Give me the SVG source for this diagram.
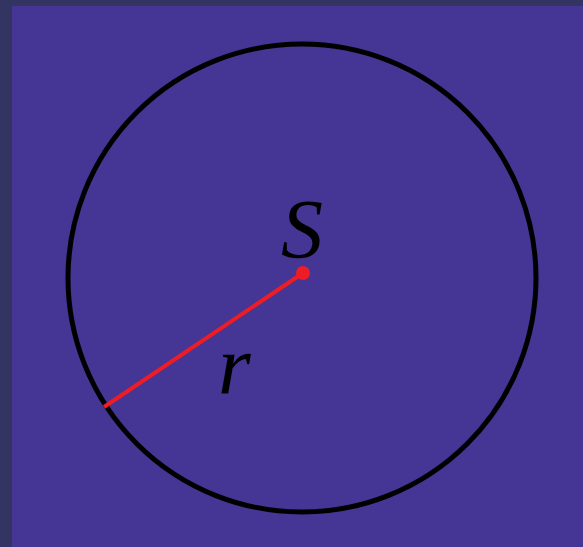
<svg xmlns="http://www.w3.org/2000/svg" width="583" height="547" viewBox="0 0 583 547">
<style>
.lbl{font-family:"Liberation Serif","DejaVu Serif",serif;font-style:italic;font-size:84px;fill:#000}
</style>
<rect x="0" y="0" width="583" height="547" fill="#343463"/>
<rect x="12" y="6" width="571" height="541" fill="#453594"/>
<g id="circle"><circle cx="302" cy="278" r="234" fill="none" stroke="#000" stroke-width="5"/></g>
<g id="connectors"><line x1="303" y1="273" x2="104" y2="407" stroke="#ee1c24" stroke-width="4"/></g>
<g id="center"><circle cx="303" cy="273" r="7" fill="#ee1c24"/><text class="lbl" x="281" y="258">S</text></g>
<g id="radius"><text class="lbl" x="218" y="394">r</text></g>
</svg>
